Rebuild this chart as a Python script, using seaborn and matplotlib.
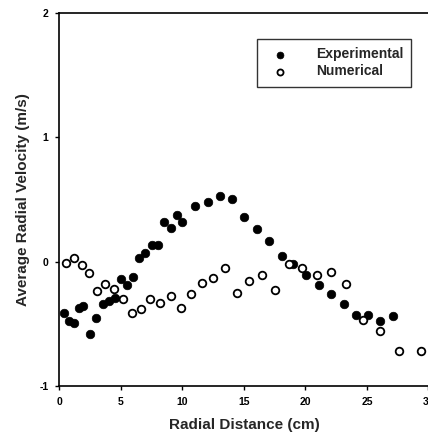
import numpy as np
import pandas as pd
import matplotlib
matplotlib.use("Agg")
import matplotlib.pyplot as plt
import seaborn as sns

exp_x = [0.37, 0.80, 1.18, 1.56, 1.94, 2.48, 2.97, 3.51, 4.00, 4.49, 5.03, 5.50,
         6.00, 6.49, 6.98, 7.52, 8.00, 8.50, 9.04, 9.53, 10.00, 11.04, 12.05,
         13.05, 14.05, 15.02, 16.03, 17.06, 18.06, 19.00, 20.07, 21.07, 22.10,
         23.10, 24.08, 25.08, 26.08, 27.09]
exp_y = [-0.415, -0.48, -0.49, -0.37, -0.36, -0.58, -0.45, -0.34, -0.32, -0.29,
         -0.14, -0.19, -0.12, 0.03, 0.07, 0.13, 0.13, 0.32, 0.27, 0.375, 0.32,
         0.45, 0.48, 0.53, 0.50, 0.36, 0.265, 0.17, 0.045, -0.015, -0.107,
         -0.19, -0.26, -0.34, -0.43, -0.43, -0.48, -0.44]

# Numerical data points
num_x = [0.53, 1.18, 1.80, 2.43, 3.05, 3.73, 4.43, 5.14, 5.87, 6.60, 7.36, 8.17,
         9.04, 9.85, 10.72, 11.61, 12.50, 13.43, 14.40, 15.43, 16.46, 17.50,
         18.63, 19.69, 20.90, 22.10, 23.30, 24.65, 26.08, 27.63, 29.37]
num_y = [-0.01, 0.03, -0.03, -0.09, -0.24, -0.18, -0.22, -0.30, -0.41, -0.38,
         -0.30, -0.33, -0.28, -0.375, -0.26, -0.17, -0.13, -0.05, -0.25, -0.155,
         -0.107, -0.225, -0.02, -0.05, -0.107, -0.083, -0.18, -0.47, -0.56,
         -0.72, -0.72]

x_ticks = [0, 5, 10, 15, 20, 25, 30]
y_ticks = [-1, 0, 1, 2]

df_exp = pd.DataFrame({"x": exp_x, "y": exp_y})
df_num = pd.DataFrame({"x": num_x, "y": num_y})

sns.set_theme(style="ticks")
plt.rcParams["font.family"] = ["Liberation Sans", "DejaVu Sans"]

fig = plt.figure(figsize=(4.28, 4.42), dpi=100)
ax = fig.add_axes([0.139, 0.1267, 0.862, 0.844])

sns.scatterplot(data=df_exp, x="x", y="y", ax=ax, color="black", s=38,
                edgecolor="black", linewidth=0.5, label="Experimental", zorder=3)
sns.scatterplot(data=df_num, x="x", y="y", ax=ax, facecolor="white", s=30,
                edgecolor="black", linewidth=1.3, label="Numerical", zorder=3)

ax.set_xlim(0, 30)
ax.set_ylim(-1, 2)
ax.set_xticks(x_ticks)
ax.set_yticks(y_ticks)
ax.set_xticklabels([str(t) for t in x_ticks], fontsize=7.5, fontweight="bold")
ax.set_yticklabels([str(t) for t in y_ticks], fontsize=7.5, fontweight="bold")
ax.tick_params(axis="both", direction="out", length=3, width=1, colors="black", pad=5)

for side in ["left", "bottom", "top"]:
    ax.spines[side].set_visible(True)
    ax.spines[side].set_color("black")
    ax.spines[side].set_linewidth(1.2)
ax.spines["right"].set_visible(False)

ax.set_xlabel("Radial Distance (cm)", fontsize=11, fontweight="bold", labelpad=8)
ax.set_ylabel("Average Radial Velocity (m/s)", fontsize=11, fontweight="bold", labelpad=7)

leg = ax.legend(loc="upper right", bbox_to_anchor=(0.954, 0.930), borderaxespad=0,
                frameon=True, fancybox=False, edgecolor="black", fontsize=10,
                handletextpad=1.6, borderpad=0.6, labelspacing=0.2, markerscale=0.8)
leg.get_frame().set_linewidth(1.0)
for t in leg.get_texts():
    t.set_fontweight("bold")

fig.savefig("out.png", dpi=100, facecolor="white")
